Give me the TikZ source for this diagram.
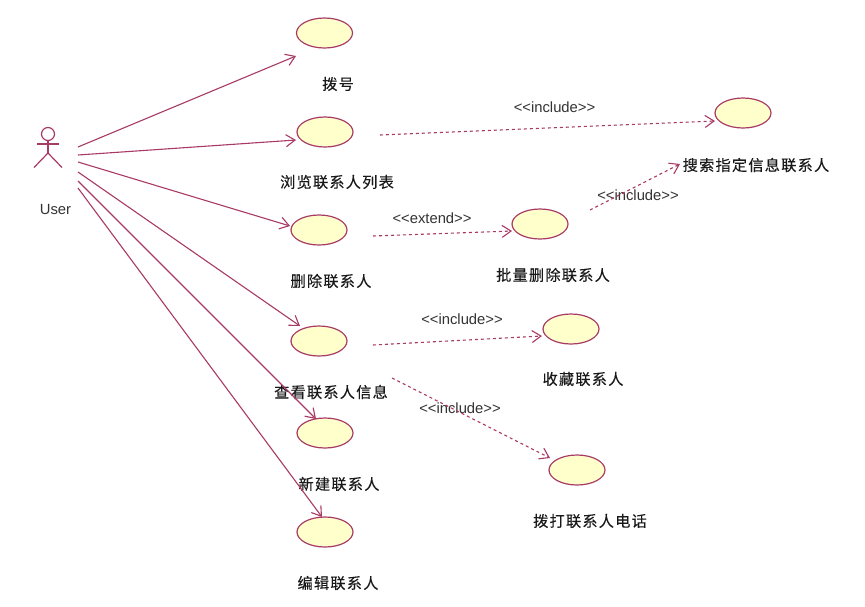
\documentclass[tikz,border=0pt]{standalone}
\usepackage{fontspec}
\setmainfont{Liberation Sans}
\newfontfamily\cjk[LetterSpace=8,FakeBold=0.25]{Noto Sans CJK SC}
\usetikzlibrary{arrows.meta,shapes.geometric}
\definecolor{umlline}{HTML}{A83A66}
\definecolor{umlfill}{HTML}{FFFFCC}
\tikzset{
  usecase/.style={ellipse,draw=umlline,fill=umlfill,line width=1.2pt,minimum width=56pt,minimum height=30pt,inner sep=0pt},
  cjklabel/.style={font=\cjk\fontsize{15.2}{16}\selectfont,text=black!90,inner sep=0pt},
  stlabel/.style={font=\fontsize{14.8}{16}\selectfont,text=black!80,inner sep=0pt},
  assoc/.style={draw=umlline,line width=1.1pt,-{Straight Barb[length=9pt,width=12pt]}},
  dep/.style={draw=umlline,line width=1.1pt,dash pattern=on 3pt off 3pt,-{Straight Barb[length=9pt,width=12pt]}},
  stick/.style={draw=umlline,line width=1.2pt}
}
\begin{document}
\begin{tikzpicture}[x=1pt,y=-1pt]
\useasboundingbox (0,0) rectangle (865,606);
\fill[white] (0,0) rectangle (865,606);
% actor
\coordinate (actor) at (48,150);
\draw[stick] ([shift={(0,-16)}]actor) circle (6.5pt);
\draw[stick] ([shift={(0,-9.5)}]actor) -- ([shift={(0,3)}]actor);
\draw[stick] ([shift={(-11,-6)}]actor) -- ([shift={(11,-6)}]actor);
\draw[stick] ([shift={(-14,17.5)}]actor) -- ([shift={(0,3)}]actor) -- ([shift={(14,17.5)}]actor);
\node[stlabel] (user) at (55.5,209) {User};
% use cases
\node[usecase] (dial) at (324.5,33) {};
\node[usecase] (browse) at (325,132) {};
\node[usecase] (del) at (319,230) {};
\node[usecase] (view) at (319,341) {};
\node[usecase] (create) at (325,433) {};
\node[usecase] (edit) at (325,532) {};
\node[usecase] (batch) at (540,224) {};
\node[usecase] (fav) at (571,329) {};
\node[usecase] (call) at (577,470) {};
\node[usecase] (search) at (743,113) {};
% labels
\node[cjklabel] (ldial) at (338,84) {拨号};
\node[cjklabel] (lbrowse) at (337,182) {浏览联系人列表};
\node[cjklabel] (ldel) at (331,281) {删除联系人};
\node[cjklabel] (lview) at (331,392) {查看联系人信息};
\node[cjklabel] (lcreate) at (339,484) {新建联系人};
\node[cjklabel] (ledit) at (338,583) {编辑联系人};
\node[cjklabel] (lbatch) at (553,275) {批量删除联系人};
\node[cjklabel] (lfav) at (583,379) {收藏联系人};
\node[cjklabel] (lcall) at (590,521) {拨打联系人电话};
\node[cjklabel] (lsearch) at (756,165) {搜索指定信息联系人};
\node[stlabel] (inc1) at (554.5,107) {<{}<include>{}>};
\node[stlabel] (ext) at (432,218) {<{}<extend>{}>};
\node[stlabel] (inc2) at (638,195) {<{}<include>{}>};
\node[stlabel] (inc3) at (462,319) {<{}<include>{}>};
\node[stlabel] (inc4) at (460,408) {<{}<include>{}>};
% associations
\draw[assoc] ([shift={(30,-3)}]actor) -- ([shift={(-28.5,23)}]dial.center);
\draw[assoc] ([shift={(30,5)}]actor) -- ([shift={(-29,8)}]browse.center);
\draw[assoc] ([shift={(30,12)}]actor) -- ([shift={(-29,-4)}]del.center);
\draw[assoc] ([shift={(30,22)}]actor) -- ([shift={(-19,-15)}]view.center);
\draw[assoc] ([shift={(30,31)}]actor) -- ([shift={(-9,-14)}]create.center);
\draw[assoc] ([shift={(30,38)}]actor) -- ([shift={(-3,-15)}]edit.center);
% dependencies
\draw[dep] ([shift={(55,3)}]browse.center) -- ([shift={(-28,8)}]search.center);
\draw[dep] ([shift={(54,6)}]del.center) -- ([shift={(-28,7)}]batch.center);
\draw[dep] ([shift={(50,-14)}]batch.center) -- ([shift={(-63,51)}]search.center);
\draw[dep] ([shift={(54,4)}]view.center) -- ([shift={(-29,7)}]fav.center);
\draw[dep] ([shift={(73,37)}]view.center) -- ([shift={(-27,-12)}]call.center);
\end{tikzpicture}
\end{document}
